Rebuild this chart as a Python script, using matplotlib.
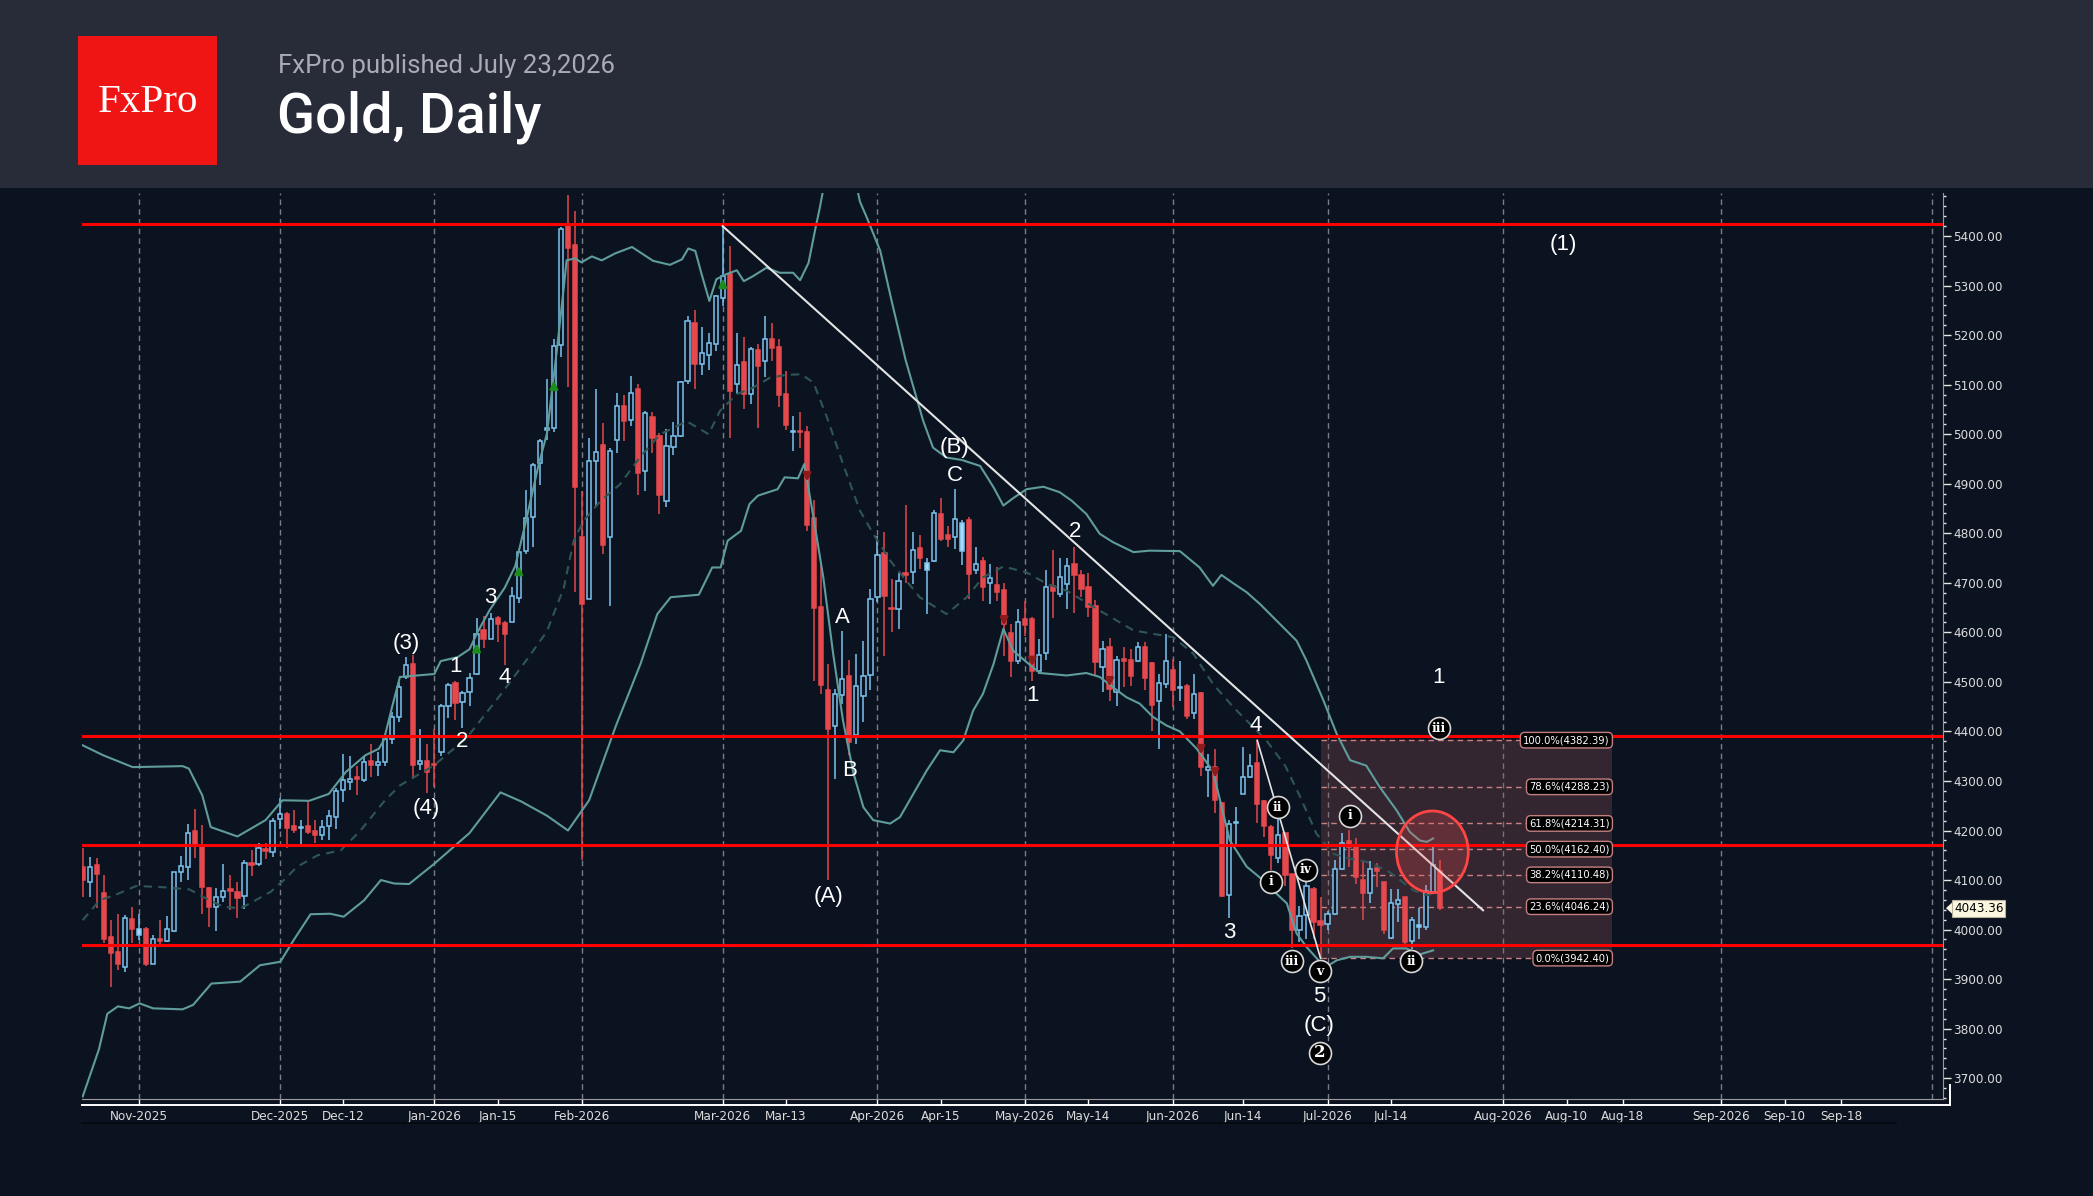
import matplotlib
matplotlib.use('Agg')
import matplotlib.pyplot as plt
from matplotlib.patches import Rectangle, Ellipse, Polygon
from matplotlib.lines import Line2D
from matplotlib import font_manager as fm
import matplotlib.transforms as mtransforms
from matplotlib.ticker import MultipleLocator, FixedLocator, FuncFormatter

W, H = 2093, 1196
DPI = 100

# ---------------- data ----------------
opens = [4127, 4096, 4130, 4074, 3985, 3955, 3925, 4022, 3990, 4002,
         3930, 3980, 3977, 3998, 4116, 4127, 4199, 4168, 4083, 4045,
         4066, 4081, 4076, 4068, 4135, 4133, 4163, 4157, 4223, 4233,
         4210, 4205, 4210, 4199, 4190, 4209, 4227, 4281, 4298, 4308,
         4301, 4340, 4333, 4338, 4385, 4430, 4510, 4537, 4334, 4341,
         4335, 4359, 4451, 4497, 4459, 4480, 4516, 4604, 4586, 4630,
         4618, 4620, 4670, 4765, 4832, 4941, 5009, 5013, 5180, 5422,
         5383, 4792, 4667, 4945, 4978, 4793, 4988, 5058, 5028, 5092,
         4926, 5035, 4996, 4866, 4975, 4996, 5108, 5225, 5141, 5160,
         5183, 5276, 5323, 5101, 5145, 5082, 5170, 5148, 5192, 5177,
         5082, 5005, 5006, 5005, 4831, 4652, 4484, 4412, 4473, 4511,
         4392, 4471, 4513, 4672, 4760, 4648, 4647, 4719, 4721, 4770,
         4725, 4745, 4839, 4796, 4792, 4765, 4827, 4725, 4745, 4699,
         4696, 4686, 4598, 4543, 4628, 4628, 4522, 4558, 4694, 4678,
         4698, 4738, 4715, 4691, 4654, 4531, 4570, 4479, 4546, 4544,
         4542, 4570, 4538, 4461, 4496, 4524, 4487, 4491, 4437, 4477,
         4323, 4329, 4256, 4069, 4215, 4273, 4309, 4336, 4260, 4207,
         4145, 4194, 4112, 4000, 4029, 4081, 4018, 4011, 4032, 4123,
         4179, 4167, 4100, 4074, 4125, 4096, 3984, 4052, 4065, 3977,
         4006, 4006, 4076, 4118]
highs = [4164, 4147, 4145, 4110, 4020, 4032, 4029, 4046, 4032, 4006,
         3990, 4020, 4027, 4116, 4148, 4213, 4244, 4211, 4086, 4083,
         4132, 4110, 4096, 4140, 4160, 4174, 4174, 4226, 4266, 4237,
         4242, 4221, 4260, 4221, 4221, 4241, 4286, 4355, 4350, 4330,
         4350, 4375, 4358, 4395, 4440, 4500, 4550, 4554, 4404, 4375,
         4404, 4455, 4498, 4502, 4482, 4518, 4630, 4634, 4640, 4634,
         4622, 4691, 4769, 4888, 4941, 4991, 5112, 5192, 5419, 5483,
         5451, 4885, 4993, 5092, 5023, 4973, 5084, 5079, 5118, 5101,
         5047, 5044, 5002, 5010, 5024, 5107, 5239, 5250, 5217, 5205,
         5281, 5420, 5380, 5205, 5196, 5176, 5182, 5239, 5225, 5193,
         5128, 5037, 5045, 5016, 4867, 4737, 4536, 4486, 4602, 4544,
         4557, 4582, 4688, 4795, 4802, 4708, 4719, 4858, 4802, 4797,
         4751, 4847, 4871, 4815, 4889, 4827, 4832, 4773, 4753, 4739,
         4731, 4699, 4616, 4647, 4663, 4631, 4587, 4725, 4766, 4750,
         4750, 4773, 4726, 4719, 4665, 4583, 4589, 4553, 4571, 4567,
         4580, 4580, 4540, 4516, 4596, 4547, 4542, 4496, 4516, 4479,
         4355, 4365, 4258, 4221, 4247, 4368, 4355, 4382, 4262, 4211,
         4224, 4197, 4113, 4047, 4096, 4086, 4065, 4038, 4141, 4195,
         4202, 4184, 4140, 4139, 4135, 4096, 4081, 4081, 4065, 4026,
         4044, 4090, 4167, 4141]
lows = [4066, 4066, 4043, 3972, 3885, 3918, 3915, 3972, 3979, 3926,
        3930, 3964, 3974, 3996, 4096, 4100, 4145, 4032, 4006, 3998,
        4055, 4039, 4023, 4041, 4108, 4128, 4143, 4147, 4204, 4164,
        4194, 4172, 4192, 4174, 4180, 4180, 4204, 4258, 4282, 4271,
        4298, 4308, 4311, 4330, 4375, 4420, 4505, 4303, 4323, 4275,
        4287, 4351, 4427, 4423, 4407, 4452, 4513, 4569, 4586, 4580,
        4534, 4620, 4659, 4758, 4773, 4897, 4989, 5005, 5156, 5096,
        4682, 4140, 4667, 4853, 4758, 4654, 4962, 4986, 5017, 4877,
        4886, 4963, 4839, 4854, 4958, 4995, 5101, 5092, 5120, 5129,
        5168, 5259, 4993, 5082, 5051, 5062, 5012, 5116, 5148, 5054,
        5008, 4967, 4973, 4805, 4501, 4476, 4100, 4305, 4456, 4352,
        4375, 4419, 4483, 4661, 4553, 4600, 4607, 4699, 4698, 4728,
        4637, 4743, 4785, 4772, 4768, 4737, 4667, 4717, 4664, 4657,
        4663, 4553, 4510, 4536, 4592, 4502, 4515, 4544, 4630, 4671,
        4647, 4639, 4671, 4632, 4511, 4479, 4462, 4452, 4489, 4491,
        4540, 4483, 4401, 4365, 4488, 4449, 4461, 4426, 4426, 4311,
        4268, 4235, 4065, 4024, 4172, 4273, 4307, 4215, 4187, 4121,
        4135, 4088, 3962, 3975, 3982, 3982, 3942, 3999, 4029, 4120,
        4126, 4093, 4020, 4054, 4086, 3992, 3980, 4016, 3968, 3960,
        3980, 3999, 4071, 4040]
closes = [4100, 4127, 4113, 3982, 3952, 3930, 4024, 4002, 4001, 3930,
          3980, 3977, 4002, 4116, 4128, 4195, 4168, 4085, 4046, 4066,
          4078, 4078, 4064, 4135, 4131, 4165, 4159, 4219, 4233, 4206,
          4202, 4207, 4197, 4190, 4207, 4229, 4280, 4301, 4305, 4303,
          4338, 4333, 4338, 4385, 4430, 4490, 4534, 4333, 4341, 4319,
          4332, 4451, 4494, 4457, 4478, 4508, 4596, 4586, 4628, 4616,
          4596, 4674, 4763, 4831, 4937, 4986, 5012, 5178, 5415, 5375,
          4893, 4658, 4945, 4964, 4777, 4966, 5058, 5026, 5084, 4921,
          5043, 4993, 4878, 4976, 4997, 5106, 5229, 5141, 5163, 5184,
          5279, 5319, 5088, 5140, 5082, 5173, 5138, 5192, 5175, 5079,
          5018, 5007, 5004, 4817, 4649, 4493, 4405, 4476, 4506, 4379,
          4491, 4511, 4668, 4756, 4674, 4647, 4704, 4716, 4766, 4750,
          4741, 4842, 4788, 4788, 4829, 4820, 4718, 4739, 4692, 4710,
          4681, 4616, 4543, 4620, 4614, 4522, 4555, 4691, 4683, 4712,
          4735, 4715, 4688, 4651, 4540, 4567, 4486, 4544, 4543, 4511,
          4570, 4508, 4454, 4497, 4542, 4484, 4489, 4432, 4476, 4328,
          4329, 4261, 4067, 4213, 4218, 4308, 4331, 4254, 4209, 4150,
          4190, 4110, 3999, 4027, 4087, 4016, 4009, 4031, 4123, 4175,
          4167, 4106, 4074, 4123, 4118, 3999, 4054, 4060, 3975, 4019,
          4009, 4078, 4130, 4043.36]

# Bollinger bands (x in trading-day slots)
upper_x = [0, 2.9, 7.1, 14.2, 15.1, 17.0, 18.2, 22.0, 26.0, 28.4, 32.2, 35.0, 37.4, 40.2, 42.1, 42.8, 44, 45.1,
           50, 50.9, 53.3, 55, 56.2, 57.9, 60, 61.5, 62.9, 64.8, 66, 67.4, 68.4, 68.8, 70, 70.9, 72.4, 73.8,
           75.7, 78.1, 81.1, 83.5, 85.2, 86.1, 87.1, 88, 89.1, 90.1, 91.5, 93, 94, 95.3, 97.2, 99.1, 101, 102,
           103.2, 104.1, 104.8, 105.5, 107, 109, 110.5, 111.5, 113.4, 115, 117, 119.5, 120.9, 122.8, 125,
           127.6, 129.5, 130.9, 132.3, 134.2, 136.6, 138.9, 140.6, 142.7, 144.6, 146.5, 149.4, 151.7, 156,
           158.8, 160.7, 161.9, 163.6, 165.5, 167.4, 170, 172.6, 174, 176.4, 178.3, 180.2, 182.5, 184.4,
           186.8, 188.7, 190.1, 191.1, 192]
upper_y = [4372, 4352, 4328, 4330, 4325, 4271, 4207, 4188, 4221, 4261, 4260, 4274, 4318, 4352, 4365, 4382, 4450, 4510,
           4516, 4542, 4550, 4566, 4602, 4646, 4690, 4734, 4817, 4937, 5001, 5168, 5296, 5351, 5355, 5347, 5359, 5351,
           5365, 5378, 5350, 5342, 5353, 5375, 5370, 5323, 5269, 5313, 5323, 5331, 5309, 5319, 5336, 5326, 5326, 5311,
           5346, 5410, 5457, 5510, 5580, 5570, 5470, 5437, 5370, 5270, 5150, 5027, 4973, 4953, 4948,
           4936, 4893, 4856, 4871, 4889, 4894, 4883, 4866, 4839, 4799, 4782, 4762, 4765, 4764,
           4731, 4694, 4716, 4699, 4681, 4657, 4620, 4583, 4543, 4463, 4395, 4342, 4331, 4288,
           4241, 4197, 4180, 4177, 4184]
mid_x = [0, 2.4, 4.8, 7.6, 11, 15.2, 17.1, 20, 22.4, 23.8, 26.7, 28.6, 30.5, 33.4, 36.7, 39.5, 42.8, 45.1, 49.9,
         54.6, 59.4, 63.2, 66, 68.4, 69.8, 71.2, 73.6, 76.4, 79.2, 82.1, 85.9, 89, 90.6, 93, 95.3, 97.7, 100.1,
         102.2, 103.9, 105.8, 108.1, 110.5, 112.4, 114.8, 119, 122.8, 125.7, 128, 130.9, 134.2, 137.1, 139.9,
         144.6, 149.4, 152.2, 155.1, 157.9, 160.7, 163.6, 166.4, 168.3, 171, 173.1, 175.4, 177.8, 180.2, 182.5,
         185.4, 187.3, 189.2, 191.1, 192]
mid_y = [4019, 4059, 4071, 4088, 4086, 4081, 4066, 4046, 4043, 4053, 4076, 4100, 4127, 4150, 4160, 4200, 4258, 4291, 4331,
         4387, 4474, 4546, 4602, 4690, 4785, 4825, 4865, 4899, 4953, 5000, 5026, 5000, 5047, 5081, 5094, 5114, 5120,
         5121, 5104, 5035, 4940, 4846, 4799, 4745, 4671, 4637, 4671, 4711, 4733, 4721, 4698, 4684,
         4644, 4604, 4597, 4590, 4557, 4496, 4449, 4409, 4382, 4330, 4268, 4194, 4153, 4143, 4137,
         4120, 4100, 4079, 4069, 4073]
lower_x = [0, 2.3, 3.5, 5, 6.6, 8.1, 10, 14.2, 15.7, 18.3, 22.4, 25.2, 28.1, 30, 32.4, 35.2, 37.1, 40, 42.4, 44.3,
           46.4, 50, 55, 59.4, 62.3, 66, 69, 72, 75.8, 79.3, 81.7, 83.6, 87.6, 89.5, 90.7, 91.7, 93.6, 94.8, 96,
           98.8, 99.8, 101.7, 102.6, 103.9, 105.3, 106.7, 108.1, 109.6, 111, 112.4, 114.8, 116.2, 118.1, 120,
           121.9, 123.8, 125.2, 126.6, 128, 129.5, 130.9, 132.3, 134.2, 136.1, 139.9, 142.7, 144.6, 146.5,
           148.4, 150.3, 152.2, 154.1, 156, 158.4, 160.7, 163.1, 165.5, 167.8, 169.7, 171.2, 172.6, 174,
           175.9, 176.8, 178.3, 180.2, 182.5, 184.9, 186.3, 188.2, 190.1, 192]
lower_y = [3663, 3758, 3830, 3845, 3841, 3851, 3841, 3839, 3848, 3891, 3895, 3928, 3935, 3979, 4031, 4032, 4026, 4059, 4100, 4093,
           4092, 4133, 4195, 4277, 4259, 4230, 4200, 4261, 4411, 4536, 4637, 4671, 4676, 4731, 4731, 4785, 4805, 4859, 4876,
           4889, 4913, 4911, 4940, 4832, 4711, 4557, 4422, 4315, 4247, 4221, 4214, 4227, 4274, 4321,
           4362, 4358, 4382, 4442, 4476, 4536, 4607, 4563, 4540, 4518, 4513, 4518, 4510, 4489,
           4469, 4456, 4429, 4412, 4400, 4365, 4320, 4180, 4127, 4100, 4073, 4053, 3992, 3965,
           3935, 3925, 3938, 3945, 3945, 3942, 3962, 3962, 3950, 3958]

tick_pos = [8, 28, 37, 50, 59, 71, 91, 100, 113, 122, 134, 143, 155, 165, 177, 186, 202, 211, 219, 233, 242, 250]
tick_labels = ['Nov-2025', 'Dec-2025', 'Dec-12', 'Jan-2026', 'Jan-15', 'Feb-2026', 'Mar-2026', 'Mar-13',
               'Apr-2026', 'Apr-15', 'May-2026', 'May-14', 'Jun-2026', 'Jun-14', 'Jul-2026', 'Jul-14',
               'Aug-2026', 'Aug-10', 'Aug-18', 'Sep-2026', 'Sep-10', 'Sep-18']
month_grid = [8, 28, 50, 71, 91, 113, 134, 155, 177, 202, 233, 263]

levels = [5424, 4391, 4170, 3969]

fib_pct = ['100.0%', '78.6%', '61.8%', '50.0%', '38.2%', '23.6%', '0.0%']
fib_val = [4382.39, 4288.23, 4214.31, 4162.40, 4110.48, 4046.24, 3942.40]

up_arrow_x = [56, 62, 67, 91]
up_arrow_y = [4570, 4726, 5100, 5306]
down_arrow_x = [103, 131, 135, 146, 159, 161]
down_arrow_y = [4913, 4622, 4540, 4499, 4362, 4315]

wave_text = ['(1)', '(3)', '(4)', '1', '2', '3', '4', 'A', 'B', '(A)', '(B)', 'C', '1', '2', '4', '3', '5', '(C)', '1']
wave_x = [210.5, 46, 48.8, 53, 54, 58, 60, 108, 109.1, 106, 124, 124, 135, 141.1, 166.8, 163, 175.8, 175.8, 192.8]
wave_y = [5384, 4577, 4245, 4531, 4380, 4670, 4509, 4630, 4321, 4067, 4973, 4916, 4473, 4803, 4412, 3995, 3864, 3807, 4509]

circ_text = ['iii', 'ii', 'i', 'i', 'iv', 'iii', 'v', 'ii', '2']
circ_x = [192.8, 169.9, 180.2, 168.9, 173.9, 171.9, 175.9, 188.9, 175.9]
circ_y = [4406, 4247, 4230, 4097, 4121, 3936, 3916, 3936, 3751]

trend_x = [91, 199.1]
trend_y = [5420, 4039]
wave5_x = [167, 176]
wave5_y = [4382, 3942]

last_price = 4043.36

# ---------------- style ----------------
BG = '#0c1320'
HEADER = '#282b38'
RED = '#e5484d'
BLUE = '#7cc4ef'
BLUE_FILL = '#a9d9f5'
BAND = '#5f9c9c'
MID = '#2f5656'
GRID = '#8a909a'


def has_font(name):
    try:
        fm.findfont(fm.FontProperties(family=name), fallback_to_default=False)
        return True
    except Exception:
        return False


def find_narrow():
    """Look for an installed narrow / condensed sans face."""
    best = None
    best_rank = 99
    for f in fm.fontManager.ttflist:
        key = (f.fname + ' ' + f.name).lower()
        if not ('narrow' in key or 'condensed' in key):
            continue
        if any(s in key for s in ['mono', 'bold', 'italic', 'oblique', 'light', 'semi',
                                  'extra', 'black', 'thin', 'medium']):
            continue
        if 'serif' in key and 'sans' not in key:
            continue
        if 'liberation' in key:
            rank = 0
        elif 'dejavu' in key:
            rank = 1
        elif 'roboto' in key or 'noto' in key or 'open' in key:
            rank = 2
        else:
            rank = 3
        if rank < best_rank:
            best_rank = rank
            best = f
    return best, best_rank


nf, nrank = find_narrow()
if nf is not None:
    NARROW_FP = fm.FontProperties(fname=nf.fname)
    NSIZE = 11 if nrank == 0 else 9.6
    FIBSIZE = 9 if nrank == 0 else 8
else:
    NARROW_FP = fm.FontProperties(family='Liberation Sans' if has_font('Liberation Sans') else 'DejaVu Sans')
    NSIZE = 9.2
    FIBSIZE = 7.6


def nfp(size):
    p = NARROW_FP.copy()
    p.set_size(size)
    return p


SANS = 'Liberation Sans' if has_font('Liberation Sans') else 'DejaVu Sans'
SERIF = 'Liberation Serif' if has_font('Liberation Serif') else 'DejaVu Serif'
HEAD = 'Roboto' if has_font('Roboto') else 'DejaVu Sans'

fig = plt.figure(figsize=(W / DPI, H / DPI), dpi=DPI, facecolor=BG)

# header
fig.patches.append(Rectangle((0, 1 - 188 / H), 1, 188 / H, transform=fig.transFigure,
                             facecolor=HEADER, edgecolor='none', zorder=0))
fig.patches.append(Rectangle((78 / W, 1 - 165 / H), 139 / W, 129 / H, transform=fig.transFigure,
                             facecolor='#ef1515', edgecolor='none', zorder=1))
fig.text(148 / W, 1 - 112 / H, 'FxPro', color='white', fontsize=29.5, family=SERIF,
         ha='center', va='baseline')
fig.text(278 / W, 1 - 73 / H, 'FxPro published July 23,2026', color='#a9abb4', fontsize=18.6,
         family=HEAD, ha='left', va='baseline')
fig.text(277 / W, 1 - 132 / H, 'Gold, Daily', color='white', fontsize=40.2, family=HEAD,
         fontweight='medium', ha='left', va='baseline')

L, R, T, B = 82, 1943, 193, 1099
ax = fig.add_axes([L / W, 1 - B / H, (R - L) / W, (B - T) / H])
ax.set_facecolor(BG)
ax.set_xlim(-0.1, 264.5)
ax.set_ylim(3658, 5487)

# gridlines
for gx in month_grid:
    ax.axvline(gx, color=GRID, lw=1, dashes=(4, 3), alpha=0.85, zorder=1)

# fib box
ax.add_patch(Rectangle((176, fib_val[-1]), 217.4 - 176, fib_val[0] - fib_val[-1],
                       facecolor=(0.57, 0.32, 0.34), alpha=0.3, edgecolor='none', zorder=1.5))
for pct, v in zip(fib_pct, fib_val):
    ax.plot([176, 212], [v, v], color='#c98080', lw=1, dashes=(4, 3), zorder=1.6)
    ax.text(217.1, v, f'{pct}({v:.2f})', color='white', fontproperties=nfp(FIBSIZE),
            ha='right', va='center', zorder=9,
            bbox=dict(boxstyle='round,pad=0.25,rounding_size=0.4', facecolor='black',
                      edgecolor='#c47f7f', lw=1))

# bands
ax.plot(upper_x, upper_y, color=BAND, lw=1.5, zorder=4, solid_joinstyle='round')
ax.plot(lower_x, lower_y, color=BAND, lw=1.5, zorder=4, solid_joinstyle='round')
ax.plot(mid_x, mid_y, color=MID, lw=1.5, dashes=(4, 3), zorder=4)

# candles
for i, (o, h, l, c) in enumerate(zip(opens, highs, lows, closes)):
    up = c >= o
    col = BLUE if up else RED
    ax.plot([i, i], [l, h], color=col, lw=1.1, zorder=2.5, solid_capstyle='butt')
    bottom = min(o, c)
    height = max(abs(c - o), 2.5)
    if up:
        filled = i > 0 and c < closes[i - 1]
        face = BLUE_FILL if filled else BG
    else:
        face = RED
    ax.add_patch(Rectangle((i - 0.3, bottom), 0.6, height, facecolor=face, edgecolor=col,
                           lw=1.1, zorder=3))

# signal arrows
for x, y in zip(up_arrow_x, up_arrow_y):
    ax.annotate('', xy=(x, y + 14), xytext=(x, y - 14),
                arrowprops=dict(arrowstyle='-|>', color='#1c8c1c', lw=2, mutation_scale=11),
                zorder=5)
for x, y in zip(down_arrow_x, down_arrow_y):
    ax.annotate('', xy=(x, y - 14), xytext=(x, y + 14),
                arrowprops=dict(arrowstyle='-|>', color='#8e1a1a', lw=2, mutation_scale=11),
                zorder=5)

# horizontal levels
for lv in levels:
    ax.axhline(lv, color='#ff0000', lw=2.2, zorder=5)

# trend lines
ax.plot(trend_x, trend_y, color='#e4e4e4', lw=1.5, zorder=6)
ax.plot(wave5_x, wave5_y, color='#e4e4e4', lw=1.2, zorder=6)

# red circle
ax.add_patch(Ellipse((191.9, 4157), 10.2, 165, facecolor=(1, 0.32, 0.32, 0.22),
                     edgecolor='#ff4545', lw=2, zorder=6.5))

# wave labels
for t, x, y in zip(wave_text, wave_x, wave_y):
    ax.text(x, y, t, color='white', fontsize=16, family=SANS, ha='center', va='center', zorder=8)

ax.scatter(circ_x, circ_y, s=250, facecolor='black', edgecolor='#d8d8d8', linewidths=1.2, zorder=8)
for t, x, y in zip(circ_text, circ_x, circ_y):
    ax.text(x, y, t, color='white', fontsize=9 if t != '2' else 12, family='DejaVu Serif',
            fontweight='bold', ha='center', va='center', zorder=9)

# axes styling
for s in ['left', 'top']:
    ax.spines[s].set_visible(False)
ax.spines['right'].set_color('#9a9a9a')
ax.spines['bottom'].set_color('#9a9a9a')
ax.yaxis.tick_right()
ax.yaxis.set_major_locator(FixedLocator(list(range(3700, 5401, 100))))
ax.yaxis.set_minor_locator(MultipleLocator(20))
ax.yaxis.set_major_formatter(FuncFormatter(lambda v, p: f'{v:.2f}'))
ax.tick_params(axis='y', which='major', length=5.5, width=1, colors='#e6e6e6', pad=2,
               labelcolor='#dcdcdc')
ax.tick_params(axis='y', which='minor', length=2.5, width=1, colors='#e6e6e6')
for lab in ax.get_yticklabels():
    lab.set_fontproperties(nfp(NSIZE))
ax.set_xticks(tick_pos)
ax.set_xticklabels(tick_labels)
ax.tick_params(axis='x', which='major', length=4.3, width=1, colors='#ffffff', pad=3.6,
               labelcolor='#dcdcdc')
for lab in ax.get_xticklabels():
    lab.set_fontproperties(nfp(NSIZE))

# frame lines
fig.add_artist(Line2D([L / W, 1950 / W], [1 - 1105 / H, 1 - 1105 / H], color='white', lw=1.4,
                      transform=fig.transFigure))
fig.add_artist(Line2D([1950 / W, 1950 / W], [1 - 1105 / H, 1 - 1085 / H], color='white', lw=1.4,
                      transform=fig.transFigure))
fig.add_artist(Line2D([L / W, 1896 / W], [1 - 1123 / H, 1 - 1123 / H], color='#04070d', lw=1.2,
                      transform=fig.transFigure))

# last price tag
tr = mtransforms.blended_transform_factory(ax.transAxes, ax.transData)
xa0 = (1946 - L) / (R - L)
xa1 = (1953 - L) / (R - L)
ax.add_patch(Polygon([[xa0, last_price], [xa1, last_price + 13], [xa1, last_price - 13]],
                     closed=True, transform=tr, facecolor='#fbf6e0', edgecolor='none',
                     clip_on=False, zorder=10))
ax.text((1954 - L) / (R - L), last_price, f'{last_price:.2f}', transform=tr, color='black',
        fontproperties=nfp(NSIZE), ha='left', va='center', clip_on=False, zorder=11,
        bbox=dict(boxstyle='square,pad=0.15', facecolor='#fbf6e0', edgecolor='#b8b09a', lw=0.8))

fig.savefig('out.png', dpi=DPI, facecolor=BG)
